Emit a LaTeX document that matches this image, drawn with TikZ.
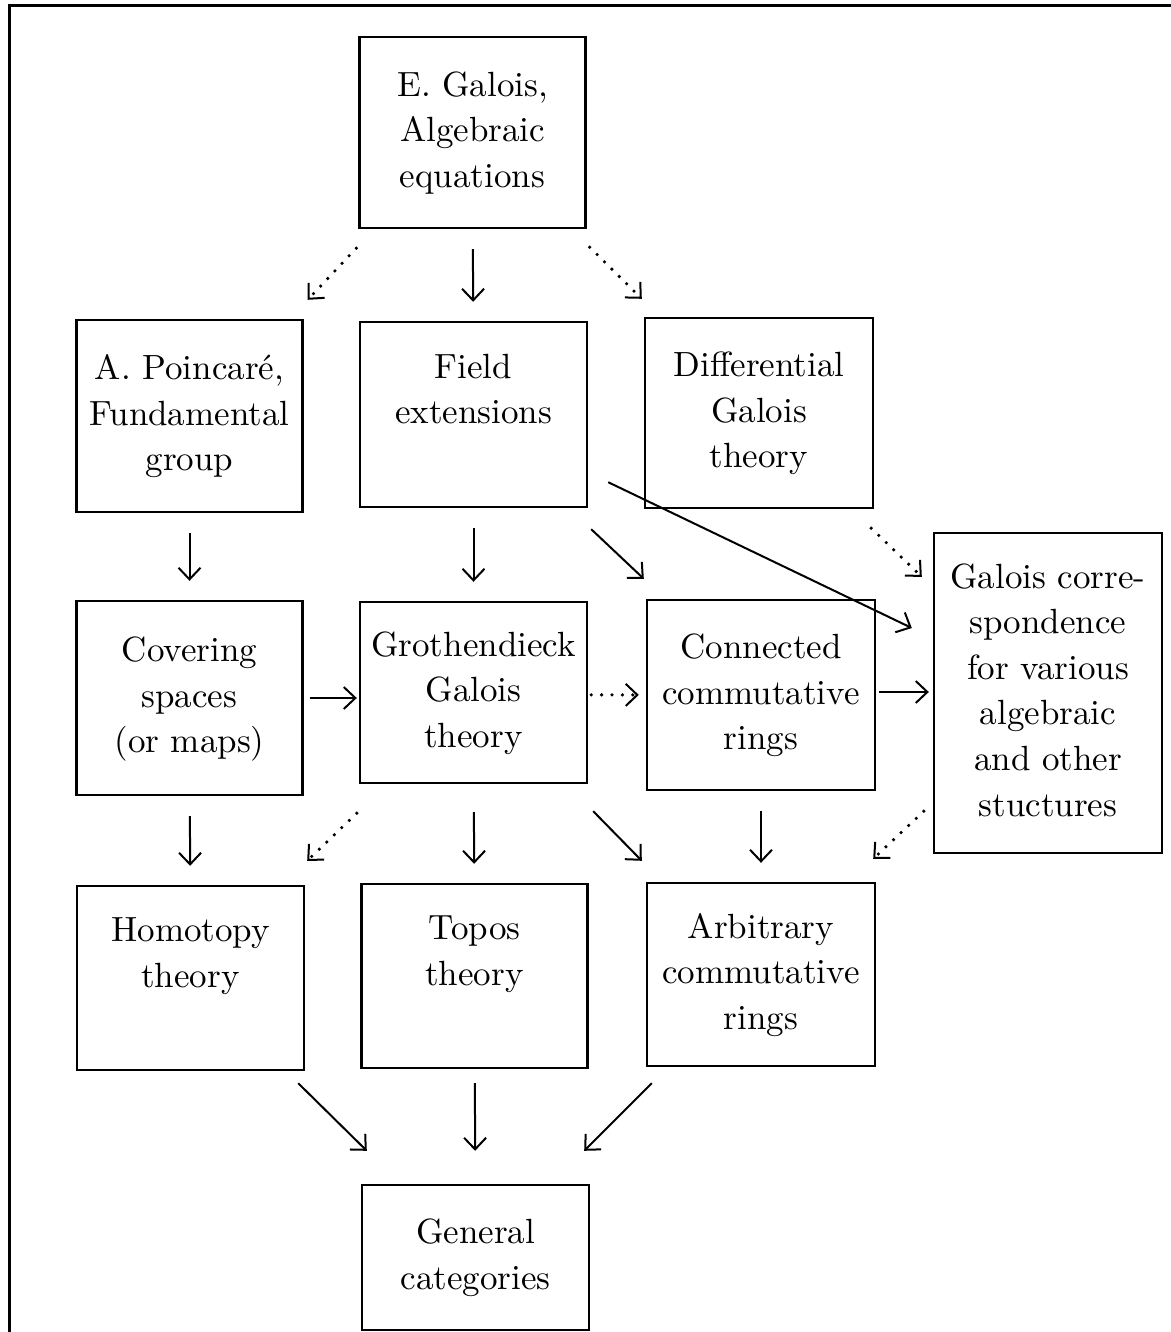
\documentclass[tikz,border=0pt]{standalone}
\usepackage{graphicx}
\usepackage{tikz}
\usetikzlibrary{arrows.meta, calc, positioning}
\tikzset{
    boxNode/.style={draw, line width=1.2pt, rectangle, inner sep=0pt, minimum width=113pt, minimum height=95pt},
    arrSolid/.style={-{Straight Barb[length=5.8pt, width=11pt]}, line width=1pt},
    arrDot/.style={-{Straight Barb[length=5.8pt, width=11pt, line width=1pt]}, line width=1.8pt, line cap=round, dash pattern=on 0pt off 5.2pt},
    vgap/.style={shorten <=10pt, shorten >=9.5pt},
    frameLine/.style={line width=1.6pt},
}
\newcommand{\boxText}[1]{\scalebox{1.75}{\fontsize{10}{13.03}\selectfont\begin{tabular}{@{}c@{}}#1\end{tabular}}}

\begin{document}
\begin{tikzpicture}[x=0.5pt, y=-0.5pt]

    \useasboundingbox (0,0) rectangle (1171,1332);
    \draw[frameLine] (9.5,1332) -- (9.5,5.3) -- (1171,5.3);

    % row 1
    \node[boxNode, minimum height=95.5pt] (gal) at (472.5, 132.5) {\boxText{E. Galois,\\ Algebraic\\ equations}};

    % row 2
    \node[boxNode, minimum height=96pt] (poi) at (189.5, 416) {\boxText{A. Poincar\'e,\\ Fundamental\\ group}};
    \node[boxNode, minimum height=92.5pt, minimum width=113.5pt] (fld) at (473.5, 414.5) {\boxText{Field\\ extensions\\ \mbox{}}};
    \node[boxNode, minimum width=114pt] (dif) at (759, 413) {\boxText{Differential\\ Galois\\ theory}};

    % row 3
    \node[boxNode, minimum height=97pt] (cov) at (189.5, 698) {\boxText{Covering\\ spaces\\ (or maps)}};
    \node[boxNode, minimum height=90.5pt, minimum width=113.5pt] (gro) at (473.5, 692.5) {\boxText{Grothendieck\\ Galois\\ theory}};
    \node[boxNode, minimum width=114pt] (con) at (761, 695) {\boxText{Connected\\ commutative\\ rings}};
    \node[boxNode, minimum height=160pt, minimum width=114pt] (cor) at (1048, 693) {\boxText{Galois corre-\\ spondence\\ for various\\ algebraic\\ and other\\ stuctures}};

    % row 4
    \node[boxNode, minimum height=92pt, minimum width=113.5pt] (hom) at (190.5, 978) {\boxText{Homotopy\\ theory\\ \mbox{}}};
    \node[boxNode, minimum height=92pt] (top) at (474.5, 976) {\boxText{Topos\\ theory\\ \mbox{}}};
    \node[boxNode, minimum height=91.5pt, minimum width=114pt] (arb) at (761, 974.5) {\boxText{Arbitrary\\ commutative\\ rings}};

    % row 5
    \node[boxNode, minimum height=72.5pt, minimum width=113.5pt] (gen) at (475.5, 1257.5) {\boxText{General\\ categories}};

    % arrows from row 1
    \draw[arrDot] ([shift={(-2,19)}]gal.south west) -- ([shift={(4,-19)}]poi.north east);
    \draw[arrSolid, vgap] (gal) -- (fld);
    \draw[arrDot] ([shift={(3,18)}]gal.south east) -- ([shift={(-2,-18)}]dif.north west);

    % arrows from row 2
    \draw[arrSolid, vgap] (poi) -- (cov);
    \draw[arrSolid, vgap] (fld) -- (gro);
    \draw[arrSolid] ([shift={(3,21)}]fld.south east) -- ([shift={(-2,-20)}]con.north west);
    \draw[arrSolid] ([shift={(20,-26)}]fld.south east) -- ([shift={(-21,-65)}]cor.west);
    \draw[arrDot] ([shift={(-3,19)}]dif.south east) -- ([shift={(-11,45)}]cor.north west);

    % arrows in row 3
    \draw[arrSolid, shorten <=3pt, shorten >=1pt] (cov.east) -- (cov.east -| gro.west);
    \draw[arrDot, shorten <=1.5pt, shorten >=3.5pt] ([yshift=-1.2pt]gro.east) -- ([yshift=-1.2pt]gro.east -| con.west);
    \draw[arrSolid, shorten <=1.5pt, shorten >=2pt] ([yshift=1.5pt]con.east) -- ([yshift=1.5pt]con.east -| cor.west);

    % arrows from row 3
    \draw[arrSolid, vgap] (cov) -- (hom);
    \draw[arrDot] ([shift={(-2,29)}]gro.south west) -- ([shift={(2,-24)}]hom.north east);
    \draw[arrSolid, vgap, shorten <=14pt] (gro) -- (top);
    \draw[arrSolid] ([shift={(5,27)}]gro.south east) -- ([shift={(-4,-21)}]arb.north west);
    \draw[arrSolid, vgap] (con) -- (arb);
    \draw[arrDot] ([shift={(-9,-43)}]cor.south west) -- ([shift={(-3,-23)}]arb.north east);

    % arrows into general categories
    \draw[arrSolid] ([shift={(-7,12)}]hom.south east) -- ([shift={(6,-33)}]gen.north west);
    \draw[arrSolid, shorten <=7pt, shorten >=16.5pt] (top) -- (gen);
    \draw[arrSolid] ([shift={(6,16)}]arb.south west) -- ([shift={(-6,-33)}]gen.north east);

\end{tikzpicture}
\end{document}
